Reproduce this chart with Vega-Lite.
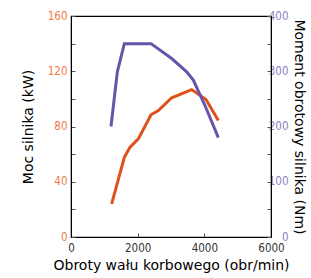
{
  "$schema": "https://vega.github.io/schema/vega-lite/v6.json",
  "width": 200,
  "height": 221,
  "autosize": "none",
  "padding": {"left": 71, "top": 16, "right": 40, "bottom": 41},
  "background": "white",
  "config": {
    "font": "DejaVu Sans",
    "view": {"stroke": "black", "strokeWidth": 1.2},
    "axis": {"domainColor": "black", "tickColor": "#555", "grid": false, "labelFont": "Liberation Sans Narrow, DejaVu Sans Condensed, Liberation Sans", "labelFontSize": 11.5, "titleFont": "DejaVu Sans", "titleFontSize": 14, "titleFontWeight": "normal", "titleColor": "black"}
  },
  "datasets": {
    "moc": [
      {"rpm": 1220, "kW": 24},
      {"rpm": 1600, "kW": 57.7},
      {"rpm": 1770, "kW": 65},
      {"rpm": 2020, "kW": 71},
      {"rpm": 2400, "kW": 88.5},
      {"rpm": 2620, "kW": 91.6},
      {"rpm": 3020, "kW": 100.8},
      {"rpm": 3620, "kW": 106.7},
      {"rpm": 4050, "kW": 99.6},
      {"rpm": 4420, "kW": 84.4}
    ],
    "moment": [
      {"rpm": 1200, "Nm": 200},
      {"rpm": 1390, "Nm": 299},
      {"rpm": 1600, "Nm": 350},
      {"rpm": 2400, "Nm": 350},
      {"rpm": 3020, "Nm": 323},
      {"rpm": 3470, "Nm": 299},
      {"rpm": 3670, "Nm": 284},
      {"rpm": 4020, "Nm": 238},
      {"rpm": 4420, "Nm": 180}
    ]
  },
  "layer": [
    {
      "data": {"name": "moc"},
      "mark": {"type": "line", "color": "#e0501a", "strokeWidth": 3},
      "encoding": {
        "x": {"field": "rpm", "type": "quantitative", "scale": {"domain": [0, 6000], "nice": false},
          "axis": {"title": "Obroty wału korbowego (obr/min)", "values": [0, 1000, 2000, 3000, 4000, 5000, 6000], "format": "d",
            "labelExpr": "datum.value % 2000 == 0 ? datum.label : ''", "tickSize": -4, "labelPadding": 9, "labelColor": "#333", "titlePadding": 5, "labelFlush": false}},
        "y": {"field": "kW", "type": "quantitative", "scale": {"domain": [0, 160], "nice": false},
          "axis": {"title": "Moc silnika (kW)", "orient": "left", "values": [0, 20, 40, 60, 80, 100, 120, 140, 160],
            "labelExpr": "datum.value % 40 == 0 ? datum.label : ''", "tickSize": -4, "labelPadding": 8, "labelColor": "#f07a45", "titlePadding": 12}}
      }
    },
    {
      "data": {"name": "moment"},
      "mark": {"type": "line", "color": "#6655aa", "strokeWidth": 3},
      "encoding": {
        "x": {"field": "rpm", "type": "quantitative"},
        "y": {"field": "Nm", "type": "quantitative", "scale": {"domain": [0, 400], "nice": false},
          "axis": {"title": "Moment obrotowy silnika (Nm)", "orient": "right", "values": [0, 50, 100, 150, 200, 250, 300, 350, 400],
            "labelExpr": "datum.value % 100 == 0 ? datum.label : ''", "tickSize": -4, "labelAlign": "right", "labelPadding": 21, "labelColor": "#8a7fc4", "titlePadding": 3}}
      }
    }
  ],
  "resolve": {"scale": {"y": "independent"}}
}
